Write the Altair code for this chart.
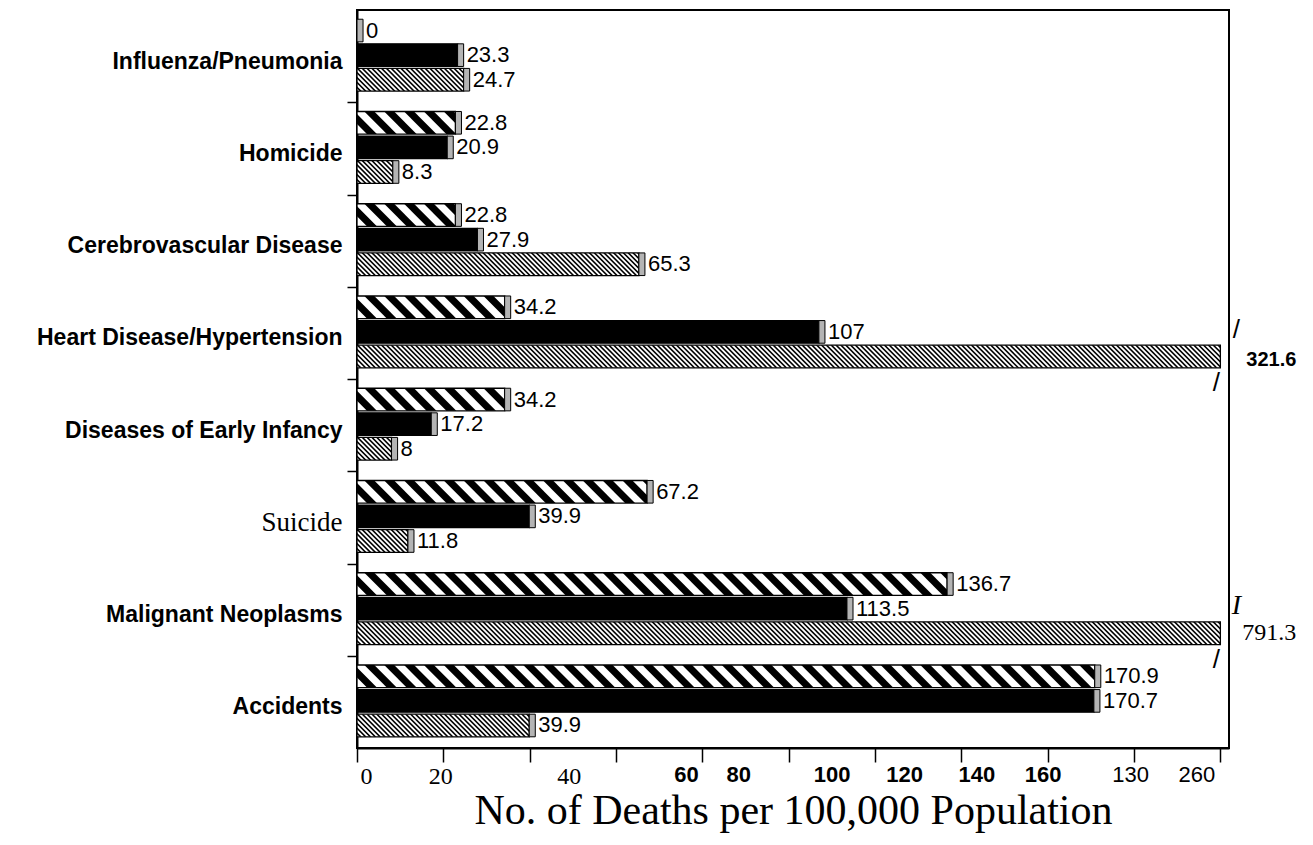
import json
import altair as alt
import pandas as pd

# ---------------- data ----------------
categories = [
    "Influenza/Pneumonia",
    "Homicide",
    "Cerebrovascular Disease",
    "Heart Disease/Hypertension",
    "Diseases of Early Infancy",
    "Suicide",
    "Malignant Neoplasms",
    "Accidents",
]
series_names = ["Series 1", "Series 2", "Series 3"]
series_1 = [0, 22.8, 22.8, 34.2, 34.2, 67.2, 136.7, 170.9]
series_2 = [23.3, 20.9, 27.9, 107, 17.2, 39.9, 113.5, 170.7]
series_3 = [24.7, 8.3, 65.3, 321.6, 8, 11.8, 791.3, 39.9]

x_ticks = [0, 20, 40, 60, 80, 100, 120, 140, 160, 180, 200]
x_tick_labels = ["0", "20", "40", "60", "80", "100", "120", "140", "160", "130", "260"]

# ---------------- layout / style constants ----------------
AXIS_MAX = 200          # bars longer than this are broken
X_END = 202             # right frame
BAND = 3.75             # y units per category
SLOT_FILL = 0.92        # share of a bar slot that is filled
CAP = 1.4               # stippled end cap length (data units)
SLANT = 5.2             # horizontal run of a hatch stripe across a bar
WIDE_PERIOD, WIDE_W = 4.6, 2.3
FINE_PERIOD, FINE_W = 1.12, 0.52
x_label_offsets = [3, -3, 39, 70, 36, 43, 29, 15, -5, -4, -24]
x_serif_ticks = [0, 20, 40]
x_plain_ticks = [180, 200]

rows = []
for ci, cat in enumerate(categories):
    for si, vals in enumerate((series_1, series_2, series_3)):
        v = vals[ci]
        y0 = ci * BAND + (BAND - 3) / 2 + si
        shown = min(v, AXIS_MAX)
        rows.append({
            "category": cat, "series": series_names[si], "s": si,
            "value": v, "label": f"{v:g}", "start": 0, "shown": shown,
            "cap_end": shown + CAP, "broken": bool(v > AXIS_MAX),
            "y0": y0, "y1": y0 + SLOT_FILL, "yc": y0 + SLOT_FILL / 2,
        })
df = pd.DataFrame(rows)
base = alt.Chart(df)

xs = alt.Scale(domain=[0, X_END], nice=False, zero=True)
ys = alt.Scale(domain=[0, 8 * BAND], reverse=True, nice=False, zero=False)

# ---------------- axes ----------------
x_axis = alt.Axis(
    values=x_ticks,
    labelExpr=f"{json.dumps(x_tick_labels)}[indexof({json.dumps(x_ticks)}, datum.value)]",
    title="No. of Deaths per 100,000 Population",
    titleFont="Liberation Serif", titleFontSize=42, titleFontWeight="normal",
    titleColor="black", titlePadding=2,
    tickSize=14, tickWidth=1.5, tickColor="black",
    domainColor="black", domainWidth=2,
    labelColor="black", labelPadding=2, labelBaseline="top",
    labelFont={"condition": {"test": f"indexof({json.dumps(x_serif_ticks)}, datum.value) >= 0",
                             "value": "Liberation Serif"}, "value": "Liberation Sans"},
    labelFontSize={"condition": {"test": f"indexof({json.dumps(x_serif_ticks)}, datum.value) >= 0",
                                 "value": 24}, "value": 22},
    labelFontWeight={"condition": {"test": f"indexof({json.dumps(x_serif_ticks + x_plain_ticks)}, datum.value) >= 0",
                                   "value": "normal"}, "value": "bold"},
    labelOffset={"condition": [{"test": f"datum.value == {v}", "value": o}
                               for v, o in zip(x_ticks, x_label_offsets) if o != 0],
                 "value": 0},
    labelOverlap=False,
)

suicide_i = categories.index("Suicide")
y_vals = [i * BAND for i in range(1, 8)] + [i * BAND + BAND / 2 + 0.2 for i in range(8)]
y_axis = alt.Axis(
    values=y_vals,
    labelExpr=f"datum.value % {BAND} == 0 ? '' : {json.dumps(categories)}[floor(datum.value / {BAND})]",
    title="",
    tickSize=10, tickWidth=1.5, tickColor="black",
    tickOpacity={"condition": {"test": f"datum.value % {BAND} != 0", "value": 0}, "value": 1},
    domainColor="black", domainWidth=2,
    labelColor="black", labelPadding=5, labelLimit=400,
    labelFont={"condition": {"test": f"floor(datum.value / {BAND}) == {suicide_i}",
                             "value": "Liberation Serif"}, "value": "Liberation Sans"},
    labelFontSize={"condition": {"test": f"floor(datum.value / {BAND}) == {suicide_i}",
                                 "value": 27}, "value": 23},
    labelFontWeight={"condition": {"test": f"floor(datum.value / {BAND}) == {suicide_i}",
                                   "value": "normal"}, "value": "bold"},
    labelOverlap=False,
)


def X(field):
    return alt.X(field, type="quantitative", scale=xs, axis=x_axis, stack=False)


def Y(field):
    return alt.Y(field, type="quantitative", scale=ys, axis=y_axis, stack=False)


# ---------------- layers ----------------
bars = base.transform_filter("datum.shown > 0").mark_rect().encode(
    x=X("start"), x2="shown:Q",
    y=Y("y0"), y2="y1:Q",
    color=alt.Color("series:N", scale=alt.Scale(domain=series_names,
                                                 range=["white", "black", "white"]), legend=None),
)


def stripes(s_idx, period, w):
    # each stripe is a parallelogram slanting "\" across the bar, clipped to [0, shown]
    return base.transform_filter(f"datum.s == {s_idx} && datum.shown > 0").transform_calculate(
        offs=f"sequence({-SLANT - w}, datum.shown, {period})"
    ).transform_flatten(["offs"]).transform_calculate(
        sid="datum.category + '|' + datum.offs",
        ts=(f"[0, 1, -datum.offs / {SLANT}, (datum.shown - datum.offs) / {SLANT}, "
            f"(-datum.offs - {w}) / {SLANT}, (datum.shown - datum.offs - {w}) / {SLANT}]"),
    ).transform_flatten(["ts"]).transform_filter(
        "datum.ts >= 0 && datum.ts <= 1"
    ).transform_calculate(
        py="datum.y0 + datum.ts * (datum.y1 - datum.y0)",
        xl=f"clamp(datum.offs + datum.ts * {SLANT}, 0, datum.shown)",
        xr=f"clamp(datum.offs + {w} + datum.ts * {SLANT}, 0, datum.shown)",
    ).mark_area(color="black", orient="horizontal").encode(
        x=X("xl"), x2="xr:Q", y=Y("py"),
        detail="sid:N",
    )


wide = stripes(0, WIDE_PERIOD, WIDE_W)
fine = stripes(2, FINE_PERIOD, FINE_W)

outline = base.transform_filter("datum.shown > 0").mark_rect(
    fillOpacity=0, stroke="black", strokeWidth=1.3
).encode(x=X("start"), x2="shown:Q", y=Y("y0"), y2="y1:Q")

caps = base.transform_filter("!datum.broken").mark_rect(
    fill="#b4b4b4", stroke="black", strokeWidth=1
).encode(x=X("shown"), x2="cap_end:Q", y=Y("y0"), y2="y1:Q")

values = base.transform_filter("!datum.broken").mark_text(
    align="left", baseline="middle", dx=3, font="Liberation Sans", fontSize=22, color="black"
).encode(x=X("cap_end"), y=Y("yc"), text="label:N")

heart = "Heart Disease/Hypertension"
malig = "Malignant Neoplasms"
broken = base.transform_filter("datum.broken")

broken_heart = broken.transform_filter(alt.datum.category == heart).mark_text(
    align="left", baseline="middle", dx=26, dy=4, font="Liberation Sans", fontWeight="bold",
    fontSize=20, color="black"
).encode(x=X("shown"), y=Y("yc"), text="label:N")

broken_malig = broken.transform_filter(alt.datum.category == malig).mark_text(
    align="left", baseline="middle", dx=22, font="Liberation Serif",
    fontSize=24, color="black"
).encode(x=X("shown"), y=Y("yc"), text="label:N")

slash_top_heart = broken.transform_filter(alt.datum.category == heart).mark_text(
    text="/", align="center", baseline="bottom", dx=16, dy=-2, font="Liberation Sans",
    fontSize=26, color="black"
).encode(x=X("shown"), y=Y("y0"))

mark_top_malig = broken.transform_filter(alt.datum.category == malig).mark_text(
    text="I", align="center", baseline="bottom", dx=16, dy=-2, font="Liberation Serif",
    fontStyle="italic", fontSize=28, color="black"
).encode(x=X("shown"), y=Y("y0"))

slash_bottom = broken.mark_text(
    text="/", align="center", baseline="top", dx=-4, dy=2, font="Liberation Sans",
    fontSize=26, color="black"
).encode(x=X("shown"), y=Y("y1"))

chart = alt.layer(
    bars, wide, fine, outline, caps, values,
    broken_heart, broken_malig, slash_top_heart, mark_top_malig, slash_bottom,
).properties(
    width=872, height=738,
    autosize=alt.AutoSizeParams(type="none"),
    padding={"left": 349, "top": 2, "right": 76, "bottom": 89},
    background="white",
).configure_view(
    stroke="black", strokeWidth=2
).configure_axis(grid=False)

chart.save("out.html", embed_options={"renderer": "svg", "actions": False})
